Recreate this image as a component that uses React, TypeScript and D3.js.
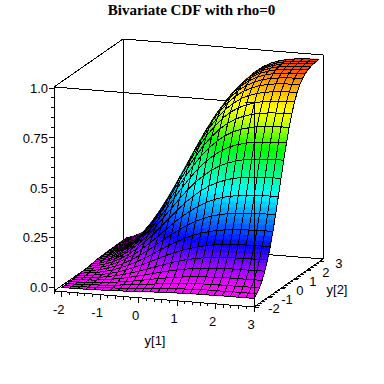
import React from "react";
import * as d3 from "d3";

const title = "Bivariate CDF with rho=0";
const y1Grid = [-2, -1.792, -1.583, -1.375, -1.167, -0.958, -0.75, -0.542, -0.333, -0.125, 0.083, 0.292, 0.5, 0.708, 0.917, 1.125, 1.333, 1.542, 1.75, 1.958, 2.167, 2.375, 2.583, 2.792, 3];
const y2Grid = y1Grid;
const zValues = [
[.001,.001,.001,.002,.003,.004,.005,.007,.008,.010,.012,.014,.016,.018,.019,.020,.021,.022,.022,.022,.023,.023,.023,.023,.023],
[.001,.001,.002,.003,.005,.006,.008,.011,.014,.017,.020,.023,.026,.028,.030,.032,.034,.035,.036,.036,.036,.037,.037,.037,.037],
[.001,.002,.003,.005,.007,.010,.013,.017,.021,.026,.030,.035,.039,.043,.047,.050,.052,.054,.055,.056,.056,.056,.057,.057,.057],
[.002,.003,.005,.007,.010,.014,.019,.025,.031,.038,.045,.052,.059,.065,.070,.074,.077,.080,.082,.083,.084,.084,.085,.085,.085],
[.003,.005,.007,.010,.015,.021,.028,.036,.045,.055,.065,.075,.084,.093,.100,.106,.111,.115,.117,.119,.120,.121,.121,.122,.122],
[.004,.006,.010,.014,.021,.029,.038,.050,.062,.076,.090,.104,.117,.129,.139,.147,.154,.159,.162,.165,.166,.167,.168,.168,.169],
[.005,.008,.013,.019,.028,.038,.052,.067,.084,.102,.121,.140,.157,.173,.186,.197,.206,.213,.218,.221,.224,.225,.226,.226,.227],
[.007,.011,.017,.025,.036,.050,.067,.086,.108,.132,.157,.181,.203,.224,.241,.256,.267,.276,.282,.287,.290,.291,.293,.293,.294],
[.008,.014,.021,.031,.045,.062,.084,.108,.136,.166,.197,.227,.255,.281,.303,.321,.335,.346,.354,.360,.363,.366,.367,.368,.369],
[.010,.017,.026,.038,.055,.076,.102,.132,.166,.203,.240,.277,.311,.342,.369,.392,.409,.423,.432,.439,.443,.446,.448,.449,.450],
[.012,.020,.030,.045,.065,.090,.121,.157,.197,.240,.284,.328,.369,.406,.437,.464,.484,.500,.512,.520,.525,.528,.530,.531,.532],
[.014,.023,.035,.052,.075,.104,.140,.181,.227,.277,.328,.378,.426,.468,.504,.535,.559,.577,.590,.600,.606,.609,.612,.613,.614],
[.016,.026,.039,.059,.084,.117,.157,.203,.255,.311,.369,.426,.479,.527,.567,.602,.629,.650,.664,.675,.682,.686,.689,.690,.691],
[.018,.028,.043,.065,.093,.129,.173,.224,.281,.342,.406,.468,.527,.579,.624,.662,.692,.715,.731,.742,.750,.754,.757,.759,.760],
[.019,.030,.047,.070,.100,.139,.186,.241,.303,.369,.437,.504,.567,.624,.672,.713,.745,.770,.787,.800,.808,.813,.816,.818,.819],
[.020,.032,.050,.074,.106,.147,.197,.256,.321,.392,.464,.535,.602,.662,.713,.757,.791,.817,.835,.848,.857,.862,.866,.867,.869],
[.021,.034,.052,.077,.111,.154,.206,.267,.335,.409,.484,.559,.629,.692,.745,.791,.826,.854,.873,.886,.895,.901,.904,.906,.908],
[.022,.035,.054,.080,.115,.159,.213,.276,.346,.423,.500,.577,.650,.715,.770,.817,.854,.882,.901,.916,.925,.931,.934,.936,.938],
[.022,.036,.055,.082,.117,.162,.218,.282,.354,.432,.512,.590,.664,.731,.787,.835,.873,.901,.922,.936,.946,.951,.955,.957,.959],
[.022,.036,.056,.083,.119,.165,.221,.287,.360,.439,.520,.600,.675,.742,.800,.848,.886,.916,.936,.951,.960,.966,.970,.972,.974],
[.023,.036,.056,.084,.120,.166,.224,.290,.363,.443,.525,.606,.682,.750,.808,.857,.895,.925,.946,.960,.970,.976,.980,.982,.984],
[.023,.037,.056,.084,.121,.167,.225,.291,.366,.446,.528,.609,.686,.754,.813,.862,.901,.931,.951,.966,.976,.982,.986,.988,.990],
[.023,.037,.057,.085,.121,.168,.226,.293,.367,.448,.530,.612,.689,.757,.816,.866,.904,.934,.955,.970,.980,.986,.990,.992,.994],
[.023,.037,.057,.085,.122,.168,.226,.293,.368,.449,.531,.613,.690,.759,.818,.867,.906,.936,.957,.972,.982,.988,.992,.994,.996],
[.023,.037,.057,.085,.122,.169,.227,.294,.369,.450,.532,.614,.691,.760,.819,.869,.908,.938,.959,.974,.984,.990,.994,.996,.998],
];
const y1Ticks = [-2, -1, 0, 1, 2, 3];
const y2Ticks = [-2, -1, 0, 1, 2, 3];
const zTicks = [0, 0.25, 0.5, 0.75, 1];
const zTickLabels = ["0.0", "0.25", "0.5", "0.75", "1.0"];
const hueZ = [0, 0.05, 0.14, 0.22, 0.47, 0.67, 0.78, 0.87, 0.94, 1];
const hueDeg = [300, 298, 270, 240, 175, 115, 70, 52, 35, 10];

const y1Dom: [number, number] = [-2.2, 3];
const y2Dom: [number, number] = [-2, 3.32];
const xU = d3.scaleLinear().domain(y1Dom).range([54, 254]);
const yU = d3.scaleLinear().domain(y1Dom).range([291, 307]);
const xV = d3.scaleLinear().domain(y2Dom).range([0, 69]);
const yV = d3.scaleLinear().domain(y2Dom).range([0, -48]);
const yZ = d3.scaleLinear().domain([0, 1]).range([-4, -203]);
const zTop = yZ.invert(-204);
const hue = d3.scaleLinear().domain(hueZ).range(hueDeg);

const P = (a: number, b: number, z: number): [number, number] => [xU(a) + xV(b), yU(a) + yV(b) + yZ(z)];
const path = (pts: [number, number][]) => d3.line()(pts) + "Z";
const color = (z: number) => d3.hsl(hue(z), 1, 0.5).formatRgb();

const SUB = 3;

function surface() {
  const out: React.ReactNode[] = [];
  for (let j = y2Grid.length - 2; j >= 0; j--) {
    for (let i = 0; i < y1Grid.length - 1; i++) {
      const pt = (s: number, t: number): [number, number] => {
        const a = y1Grid[i] + (y1Grid[i + 1] - y1Grid[i]) * s;
        const b = y2Grid[j] + (y2Grid[j + 1] - y2Grid[j]) * t;
        return P(a, b, zAt(i, j, s, t));
      };
      for (let ts = SUB - 1; ts >= 0; ts--) {
        for (let ss = 0; ss < SUB; ss++) {
          const s0 = ss / SUB, s1 = (ss + 1) / SUB, t0 = ts / SUB, t1 = (ts + 1) / SUB;
          const c = color(zAt(i, j, (s0 + s1) / 2, (t0 + t1) / 2));
          out.push(<path key={`f${i}-${j}-${ss}-${ts}`} d={path([pt(s0, t0), pt(s1, t0), pt(s1, t1), pt(s0, t1)])} fill={c} stroke={c} strokeWidth={0.6} />);
        }
      }
      out.push(<path key={`m${i}-${j}`} d={path([pt(0, 0), pt(1, 0), pt(1, 1), pt(0, 1)])} fill="none" stroke="#000" strokeWidth={1} shapeRendering="crispEdges" />);
    }
  }
  return out;
}
function zAt(i: number, j: number, s: number, t: number) {
  const a = zValues[j][i] * (1 - s) + zValues[j][i + 1] * s;
  const b = zValues[j + 1][i] * (1 - s) + zValues[j + 1][i + 1] * s;
  return a * (1 - t) + b * t;
}

const Seg = ({ a, b }: { a: [number, number]; b: [number, number] }) => (
  <line x1={a[0]} y1={a[1]} x2={b[0]} y2={b[1]} stroke="#000" strokeWidth={1} shapeRendering="crispEdges" />
);

export default function App() {
  const [a0, a1] = y1Dom, [b0, b1] = y2Dom;
  const zB = yZ.invert(0);
  const A = P(a0, b0, zB), B = P(a1, b0, zB), C = P(a1, b1, zB), D = P(a0, b1, zB);
  const At = P(a0, b0, zTop), Bt = P(a1, b0, zTop), Ct = P(a1, b1, zTop), Dt = P(a0, b1, zTop);
  const minorY1 = d3.range(-22, 31, 2).map((d) => d / 10);
  const minorY2 = d3.range(-20, 31, 2).map((d) => d / 10);
  const minorZ = d3.range(0, 21).map((d) => d / 20);
  const lab = { fontFamily: "Liberation Sans", fontSize: 13, fill: "#000" } as const;
  const frontFrac = (x: number): [number, number] => [x, At[1] + ((Bt[1] - At[1]) * (x - At[0])) / (Bt[0] - At[0])];
  return (
    <svg width={384} height={384} style={{ position: "absolute", left: 0, top: 0, background: "#fff" }}>
      <text x={191.5} y={15} textAnchor="middle" fontFamily="Liberation Serif" fontWeight="bold" fontSize={15} fill="#000">{title}</text>
      <Seg a={At} b={Dt} /><Seg a={Dt} b={Ct} /><Seg a={At} b={Bt} /><Seg a={Ct} b={C} /><Seg a={Dt} b={D} /><Seg a={D} b={C} /><Seg a={A} b={D} />
      {surface()}
      <Seg a={Bt} b={B} />
      <Seg a={frontFrac(245)} b={Bt} />
      <Seg a={At} b={A} />
      <Seg a={A} b={B} />
      <Seg a={B} b={C} />
      {minorZ.map((z) => {
        const y = P(a0, b0, z)[1];
        const major = zTicks.some((t) => Math.abs(t - z) < 1e-6);
        return <line key={`zt${z}`} x1={At[0] - (major ? 5 : 3)} x2={At[0]} y1={y} y2={y} stroke="#000" shapeRendering="crispEdges" />;
      })}
      {zTicks.map((z, k) => (
        <text key={`zl${z}`} x={At[0] - 6} y={P(a0, b0, z)[1] + 5} textAnchor="end" {...lab}>{zTickLabels[k]}</text>
      ))}
      {minorY1.map((t) => {
        const p = P(t, b0, zB);
        const major = y1Ticks.some((v) => Math.abs(v - t) < 1e-6);
        return <line key={`ut${t}`} x1={p[0]} x2={p[0]} y1={p[1]} y2={p[1] + (major ? 5 : 3)} stroke="#000" shapeRendering="crispEdges" />;
      })}
      {y1Ticks.map((t) => {
        const p = P(t, b0, zB);
        return <text key={`ul${t}`} x={p[0] - 3} y={p[1] + 22} textAnchor="middle" {...lab}>{t}</text>;
      })}
      {minorY2.map((t) => {
        const p = P(a1, t, zB);
        const major = y2Ticks.some((v) => Math.abs(v - t) < 1e-6);
        return <line key={`vt${t}`} x1={p[0]} x2={p[0] + (major ? 5 : 3)} y1={p[1]} y2={p[1]} stroke="#000" shapeRendering="crispEdges" />;
      })}
      {y2Ticks.map((t) => {
        const p = P(a1, t, zB);
        return <text key={`vl${t}`} x={p[0] + 20} y={p[1] + 6} textAnchor="middle" {...lab}>{t}</text>;
      })}
      <text x={155} y={345} textAnchor="middle" {...lab}>y[1]</text>
      <text x={337} y={294} textAnchor="middle" {...lab}>y[2]</text>
    </svg>
  );
}
